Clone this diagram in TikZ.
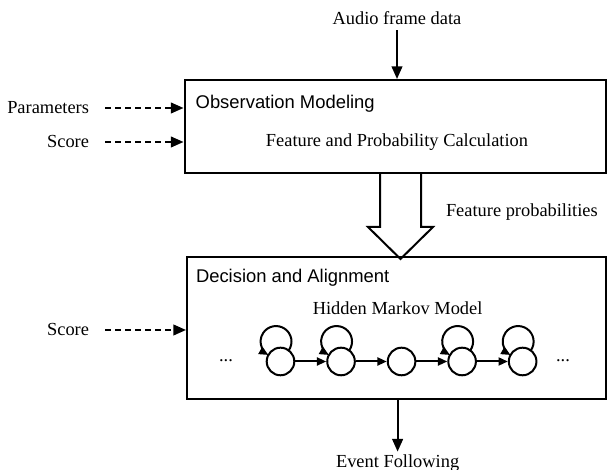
\documentclass[tikz,border=0pt]{standalone}
\usepackage{fontspec}
\setmainfont{Liberation Serif}
\setsansfont{Liberation Sans}
\usetikzlibrary{positioning}
\usetikzlibrary{arrows.meta}

\begin{document}
\begin{tikzpicture}[x=0.75pt, y=0.75pt, line width=1.5pt, >={Triangle[length=9.5pt, width=8pt]}, font=\fontsize{13.8}{16}\selectfont, node distance=45.4pt]
    \tikzstyle{block}=[draw=black, rectangle, fill=none, inner sep=0pt]
    \tikzstyle{state}=[draw=black, circle, fill=none, minimum size=20.7pt, inner sep=0pt]
    \tikzstyle{dasharrow}=[->, dash pattern=on 4.5pt off 3pt]
    \tikzstyle{small}=[-{Triangle[length=7pt, width=6pt]}]
    \tikzstyle{caption}=[font=\sffamily\fontsize{13.8}{16}\selectfont, anchor=west, inner sep=0pt]
    \tikzstyle{input}=[anchor=east, inner sep=0pt]

    \useasboundingbox (0,0) rectangle (607,470);

    % the two stages
    \node[block, minimum width=316.1pt, minimum height=69.75pt] (obs) at (395.25,343.5) {};
    \node[block, minimum width=314.25pt, minimum height=106.5pt] (dec) at (396.5,142) {};

    \node[caption] (obstitle) at (194.7,366) {Observation Modeling};
    \node (calc) at (397,328) {Feature and Probability Calculation};
    \node[caption] (dectitle) at (195,192) {Decision and Alignment};
    \node (hmm) at (397.6,162) {Hidden Markov Model};

    % inputs
    \node (audio) at (397,452) {Audio frame data};
    \node[input] (par) at (90,362) {Parameters};
    \node[input] (score) at (90,328) {Score};
    \node[input] (score2) at (90,140) {Score};

    \path (audio.south) edge[->] (audio |- obs.north);
    \draw[dasharrow] (par.east) ++(15,0) -- (par -| obs.west);
    \draw[dasharrow] (score.east) ++(15,0) -- (score -| obs.west);
    \draw[dasharrow] (score2.east) ++(15,0) -- (score2 -| dec.west);

    % hollow arrow between the stages
    \draw[line join=miter] (380,297) -- (380,243) -- (368,243) -- (400.5,211) -- (433,243) -- (421,243) -- (421,297);
    \node[anchor=west, inner sep=0pt] (fprob) at (445,258) {Feature probabilities};

    % hidden markov model chain
    \node[state] (s1) at (280.5,108.5) {};
    \node[state, right of=s1] (s2) {};
    \node[state, right of=s2] (s3) {};
    \node[state, right of=s3] (s4) {};
    \node[state, right of=s4] (s5) {};
    \node (ldots) at (226,109) {...};
    \node (rdots) at (563,109) {...};

    \path (s1) edge[small] (s2);
    \path (s2) edge[small] (s3);
    \path (s3) edge[small] (s4);
    \path (s4) edge[small] (s5);
    \foreach \s in {s1,s2,s4,s5}
        \draw[small] (\s) ++(8.2,11.1) arc[start angle=-35, end angle=240.4, radius=11.6pt];

    % output
    \node[inner sep=1.5pt] (event) at (397.6,7) {Event Following};
    \path (dec.south -| event) edge[->] (event.north);
\end{tikzpicture}
\end{document}
